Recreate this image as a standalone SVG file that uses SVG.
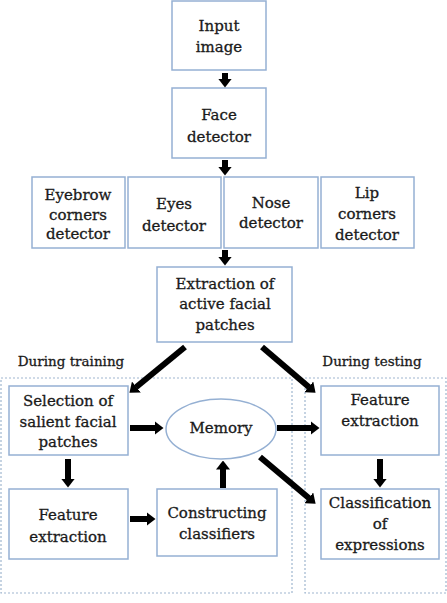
<svg xmlns="http://www.w3.org/2000/svg" width="447" height="603" viewBox="0 0 447 603">
<style>
.box{fill:#fff;stroke:#95b0d3;stroke-width:1.5}
.region{fill:none;stroke:#9fb6cf;stroke-width:1.2;stroke-dasharray:2 2}
text{font-family:"DejaVu Serif","Liberation Serif",serif;font-size:15px;fill:#1a1a1a;stroke:#1a1a1a;stroke-width:0.3;text-anchor:middle}
.lbl{font-size:13.5px}
.arr{stroke:#000;stroke-width:6;fill:none;marker-end:url(#ah)}
</style>
<defs>
<marker id="ah" markerUnits="userSpaceOnUse" markerWidth="9" markerHeight="14" viewBox="0 0 9 14" refX="0.5" refY="7" orient="auto">
<path d="M0,0 L9,7 L0,14 z" fill="#000"/>
</marker>
</defs>
<rect width="447" height="603" fill="#fff"/>
<rect class="region" x="1" y="378" width="291" height="215"/>
<rect class="region" x="305" y="378" width="141" height="215"/>
<text class="lbl" x="71" y="366">During training</text>
<text class="lbl" x="372" y="366">During testing</text>
<g id="input"><rect class="box" x="172" y="1" width="94" height="69"/><text x="219" y="31">Input</text><text x="219" y="52">image</text></g>
<g id="face"><rect class="box" x="172" y="88" width="94" height="70"/><text x="219" y="120">Face</text><text x="219" y="142">detector</text></g>
<g id="eyebrow"><rect class="box" x="32" y="177" width="93" height="71"/><text x="78" y="200">Eyebrow</text><text x="78" y="220">corners</text><text x="78" y="239">detector</text></g>
<g id="eyes"><rect class="box" x="128" y="177" width="93" height="71"/><text x="174" y="209">Eyes</text><text x="174" y="231">detector</text></g>
<g id="nose"><rect class="box" x="224" y="177" width="94" height="71"/><text x="271" y="208">Nose</text><text x="271" y="228">detector</text></g>
<g id="lip"><rect class="box" x="321" y="177" width="93" height="71"/><text x="367" y="198">Lip</text><text x="367" y="219">corners</text><text x="367" y="240">detector</text></g>
<g id="extraction"><rect class="box" x="157" y="267" width="135" height="75"/><text x="225" y="289">Extraction of</text><text x="225" y="309">active facial</text><text x="225" y="330">patches</text></g>
<g id="selection"><rect class="box" x="9" y="386" width="119" height="69"/><text x="68" y="406">Selection of</text><text x="68" y="427">salient facial</text><text x="68" y="447">patches</text></g>
<g id="memory"><ellipse class="box" cx="221" cy="429" rx="55" ry="30"/><text x="221" y="433">Memory</text></g>
<g id="feature-test"><rect class="box" x="321" y="386" width="118" height="69"/><text x="380" y="405">Feature</text><text x="380" y="426">extraction</text></g>
<g id="feature-train"><rect class="box" x="9" y="489" width="119" height="70"/><text x="68" y="520">Feature</text><text x="68" y="542">extraction</text></g>
<g id="constructing"><rect class="box" x="157" y="489" width="120" height="67"/><text x="217" y="518">Constructing</text><text x="217" y="539">classifiers</text></g>
<g id="classification"><rect class="box" x="321" y="489" width="118" height="70"/><text x="380" y="508">Classification</text><text x="380" y="529">of</text><text x="380" y="550">expressions</text></g>
<g id="connectors">
<line class="arr" x1="225" y1="73" x2="225" y2="79"/>
<line class="arr" x1="225" y1="160" x2="225" y2="167"/>
<line class="arr" x1="225" y1="250" x2="225" y2="257"/>
<line class="arr" x1="185" y1="347" x2="136" y2="387.3"/>
<line class="arr" x1="262" y1="347" x2="309.1" y2="387.2"/>
<line class="arr" x1="130" y1="428" x2="155" y2="428"/>
<line class="arr" x1="277" y1="428" x2="311" y2="428"/>
<line class="arr" x1="260" y1="457" x2="309.1" y2="498.2"/>
<line class="arr" x1="68" y1="459" x2="68" y2="479"/>
<line class="arr" x1="130" y1="519" x2="147" y2="519"/>
<line class="arr" x1="223" y1="488" x2="223" y2="469"/>
<line class="arr" x1="380" y1="459" x2="380" y2="479"/>
</g>
</svg>
